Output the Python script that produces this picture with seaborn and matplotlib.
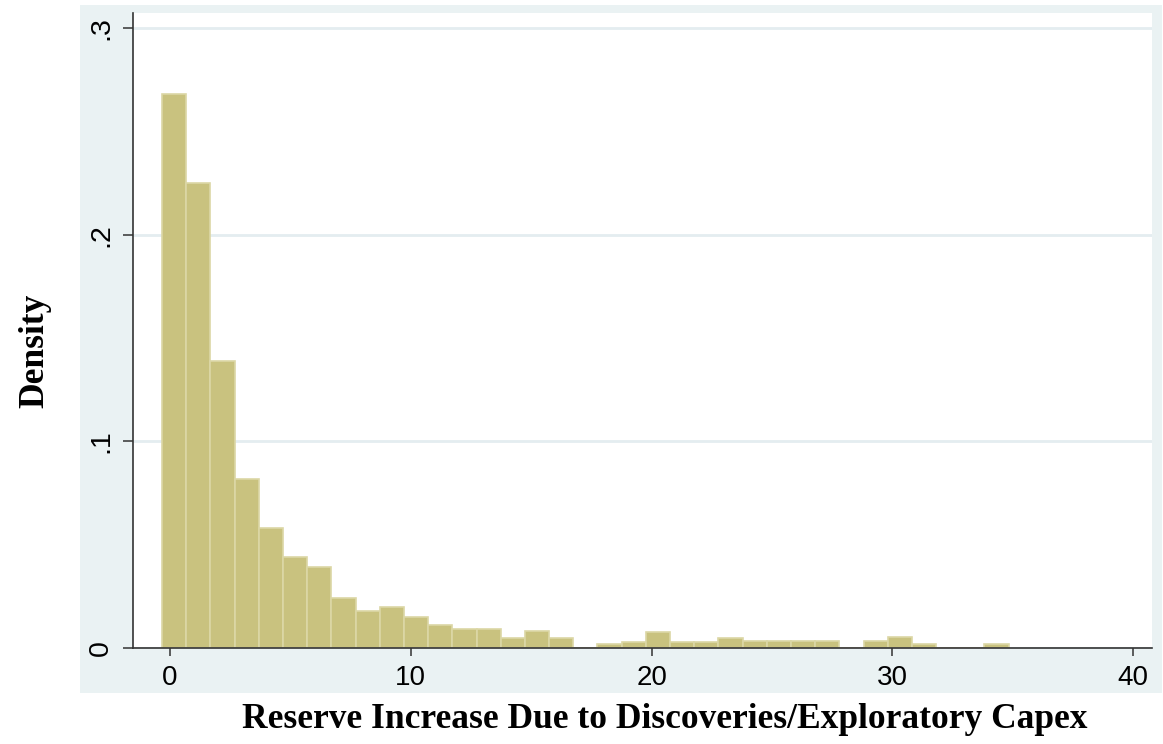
import matplotlib
matplotlib.use('Agg')
import matplotlib.pyplot as plt
import seaborn as sns
import numpy as np
import pandas as pd
from matplotlib.patches import Rectangle

# ---- data ----
bin_start = -0.33
bin_width = 1.0045
density = [0.268, 0.225, 0.139, 0.082, 0.058, 0.044, 0.039, 0.024, 0.018, 0.020,
           0.015, 0.011, 0.009, 0.009, 0.0048, 0.0084, 0.0046, 0.0, 0.0019, 0.0027,
           0.0076, 0.0027, 0.0027, 0.0047, 0.0034, 0.0034, 0.0034, 0.0034, 0.0, 0.0034,
           0.0055, 0.0021, 0.0, 0.0, 0.0021]
x_ticks = [0, 10, 20, 30, 40]
x_ticklabels = ['0', '10', '20', '30', '40']
y_ticks = [0, 0.1, 0.2, 0.3]
y_ticklabels = ['0', '.1', '.2', '.3']
x_label = 'Reserve Increase Due to Discoveries/Exploratory Capex'
y_label = 'Density'

edges = [bin_start + bin_width * i for i in range(len(density) + 1)]
centers = [e + bin_width / 2 for e in edges[:-1]]
df = pd.DataFrame({'value': centers, 'density': density})

sns.set_style('white')
plt.rcParams['font.family'] = ['Liberation Sans', 'DejaVu Sans']

W, H = 1163, 744
fig = plt.figure(figsize=(W / 100, H / 100), dpi=100)
fig.patch.set_facecolor('white')
fig.patches.append(Rectangle((80 / W, 1 - 693 / H), (1162 - 80) / W, (693 - 5) / H,
                             transform=fig.transFigure, facecolor='#EAF2F3',
                             edgecolor='none', zorder=-10))

ax = fig.add_axes([133 / W, 1 - 648 / H, (1152 - 133) / W, (648 - 13) / H])
ax.set_zorder(1)
ax.set_facecolor('white')

sns.histplot(data=df, x='value', weights='density', bins=edges, stat='count', ax=ax,
             color='#C9C27F', edgecolor='#DCD7A6', linewidth=1.2, alpha=1)

ax.set_xlim(-1.537, 40.78)
ax.set_ylim(0, 0.3073)

ax.set_yticks(y_ticks)
ax.set_yticklabels(y_ticklabels)
ax.set_xticks(x_ticks)
ax.set_xticklabels(x_ticklabels)

for t in ax.get_yticklabels():
    t.set_rotation(90)
    t.set_va('center')
    t.set_ha('right')

ax.tick_params(axis='y', direction='out', length=7.5, width=1.1, color='#333333',
               pad=6, labelsize=20.5, labelcolor='black', left=True)
ax.tick_params(axis='x', direction='out', length=6, width=1.1, color='#333333',
               pad=6, labelsize=20, labelcolor='black', bottom=True)

ax.yaxis.grid(True, color='#E4EDF0', linewidth=2)
ax.xaxis.grid(False)
ax.set_axisbelow(True)

for s in ['top', 'right']:
    ax.spines[s].set_visible(False)
for s in ['left', 'bottom']:
    ax.spines[s].set_color('#333333')
    ax.spines[s].set_linewidth(1.2)

ax.set_xlabel('')
ax.set_ylabel('')

fig.text(665 / W, 1 - 720 / H, x_label, ha='center', va='center', color='black',
         family=['Liberation Serif', 'DejaVu Serif'], fontweight='bold', fontsize=25.5)
fig.text(35 / W, 1 - 351 / H, y_label, ha='center', va='center', rotation=90,
         color='black',
         family=['Liberation Serif', 'DejaVu Serif'], fontweight='bold', fontsize=25.5)

fig.savefig('out.png', dpi=100)
